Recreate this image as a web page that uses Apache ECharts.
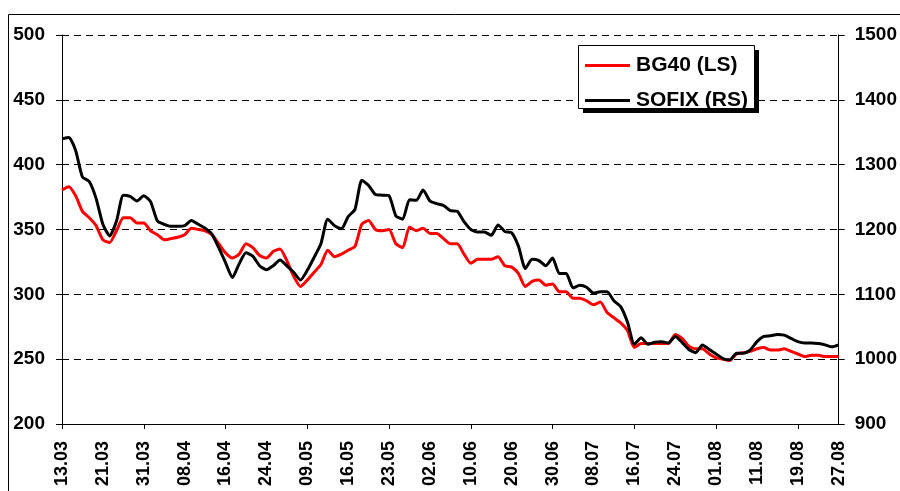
<!DOCTYPE html>
<html>
<head>
<meta charset="utf-8">
<script src="https://cdn.jsdelivr.net/npm/echarts@6/dist/echarts.min.js"></script>
<style>
    html, body { margin: 0; padding: 0; background: #fff; }
    #main { width: 900px; height: 491px; }
</style>
</head>
<body>
<div id="main"></div>
<script>
// x axis labels, one every 6 points
const tickLabels = ["13.03", "21.03", "31.03", "08.04", "16.04", "24.04", "09.05", "16.05", "23.05", "02.06",
    "10.06", "20.06", "30.06", "08.07", "16.07", "24.07", "01.08", "11.08", "19.08", "27.08"];

// BG40, left axis
const bg40 = [380.5, 383, 376, 364, 359, 353, 342, 340, 349, 359,
    359, 355, 355, 349, 346, 342, 343, 344, 346, 351,
    350, 349, 346, 339, 332, 328, 331, 339, 336, 330,
    328, 333, 335, 326, 314, 306, 311, 317, 323, 334,
    329, 331, 334, 337, 354, 357, 350, 349, 350, 339,
    336, 352, 349, 351, 347, 347, 343, 339, 339, 331,
    324, 327, 327, 327, 329, 322, 321, 316, 306, 310,
    311, 307, 308, 302, 302, 297, 297, 295, 292, 294,
    286, 282, 278, 272, 259, 262, 262, 262, 262, 262,
    269, 266, 260, 258, 258, 254, 251, 250, 249, 254,
    255, 256, 258, 259, 257, 257, 258, 256, 254, 252,
    253, 253, 252, 252, 252];

// SOFIX, right axis
const sofix = [1340, 1342, 1322, 1281, 1274, 1248, 1208, 1190, 1213, 1253,
    1251, 1244, 1252, 1243, 1213, 1208, 1205, 1205, 1206, 1214,
    1208, 1202, 1193, 1172, 1149, 1126, 1147, 1164, 1159, 1144,
    1138, 1144, 1153, 1144, 1134, 1122, 1137, 1157, 1178, 1216,
    1206, 1201, 1220, 1231, 1276, 1268, 1254, 1253, 1252, 1221,
    1216, 1246, 1245, 1261, 1244, 1240, 1237, 1229, 1228, 1212,
    1200, 1196, 1196, 1191, 1207, 1197, 1195, 1174, 1140, 1154,
    1152, 1144, 1156, 1132, 1132, 1110, 1114, 1111, 1102, 1104,
    1104, 1090, 1081, 1057, 1023, 1033, 1023, 1026, 1027, 1025,
    1035, 1026, 1015, 1010, 1022, 1015, 1008, 1001, 999, 1009,
    1009, 1014, 1027, 1035, 1036, 1038, 1037, 1032, 1027, 1025,
    1025, 1024, 1022, 1019, 1022];

const fontFam = 'Arial, "Liberation Sans", sans-serif';
const xData = bg40.map((v, i) => i);

const myChart = echarts.init(document.getElementById("main"));

const option = {
    animation: false,
    backgroundColor: "#fff",
    graphic: [
        {
            // outer frame
            type: "rect",
            shape: { x: 8.5, y: 14.5, width: 1000, height: 1000 },
            style: { fill: "none", stroke: "#000", lineWidth: 1 },
            silent: true,
            z: 0
        },
        {
            // legend box shadow
            type: "rect",
            shape: { x: 583, y: 50, width: 176, height: 63 },
            style: { fill: "#000" },
            silent: true,
            z: 5
        },
        {
            // legend box
            type: "rect",
            shape: { x: 578.5, y: 45.5, width: 176, height: 63 },
            style: { fill: "#fff", stroke: "#000", lineWidth: 1 },
            silent: true,
            z: 6
        }
    ],
    grid: {
        left: 62,
        right: 58,
        top: 35,
        bottom: 67
    },
    legend: {
        orient: "vertical",
        left: 578,
        top: 45,
        padding: [10, 6, 7, 7],
        itemGap: 14,
        icon: "rect",
        itemWidth: 45,
        itemHeight: 3,
        z: 10,
        textStyle: {
            fontFamily: fontFam,
            fontSize: 21,
            fontWeight: "bold",
            color: "#000",
            padding: [0, 0, 0, 1]
        },
        data: ["BG40 (LS)", "SOFIX (RS)"]
    },
    xAxis: {
        type: "category",
        boundaryGap: false,
        data: xData,
        axisLine: { lineStyle: { color: "#000", width: 1 } },
        axisTick: {
            // 刻度 every 12 points
            show: true,
            interval: 11,
            length: 5,
            lineStyle: { color: "#000" }
        },
        axisLabel: {
            interval: 5,
            rotate: 90,
            margin: 17,
            color: "#000",
            fontFamily: fontFam,
            fontSize: 18,
            fontWeight: "bold",
            formatter: (v, idx) => tickLabels[idx / 6]
        },
        splitLine: { show: false }
    },
    yAxis: [
        {
            type: "value",
            min: 200,
            max: 500,
            interval: 50,
            axisLine: { show: true, lineStyle: { color: "#000", width: 1 } },
            axisTick: { show: true, length: 6, lineStyle: { color: "#000" } },
            axisLabel: {
                margin: 17,
                color: "#000",
                fontFamily: fontFam,
                fontSize: 19,
                fontWeight: "bold"
            },
            splitLine: {
                show: true,
                lineStyle: { color: "#000", type: [7, 5], width: 1 }
            }
        },
        {
            type: "value",
            min: 900,
            max: 1500,
            interval: 100,
            position: "right",
            axisLine: { show: true, lineStyle: { color: "#000", width: 1 } },
            axisTick: { show: true, length: 6, lineStyle: { color: "#000" } },
            axisLabel: {
                margin: 16,
                color: "#000",
                fontFamily: fontFam,
                fontSize: 19,
                fontWeight: "bold",
                formatter: (v) => String(v)
            },
            splitLine: { show: false }
        }
    ],
    series: [
        {
            name: "BG40 (LS)",
            type: "line",
            yAxisIndex: 0,
            data: bg40,
            symbol: "none",
            smooth: 0.2,
            lineStyle: { color: "#ff0000", width: 3 },
            itemStyle: { color: "#ff0000" },
            z: 2
        },
        {
            name: "SOFIX (RS)",
            type: "line",
            yAxisIndex: 1,
            data: sofix,
            symbol: "none",
            smooth: 0.2,
            lineStyle: { color: "#000", width: 3 },
            itemStyle: { color: "#000" },
            z: 3
        }
    ]
};

myChart.setOption(option);
</script>
</body>
</html>
